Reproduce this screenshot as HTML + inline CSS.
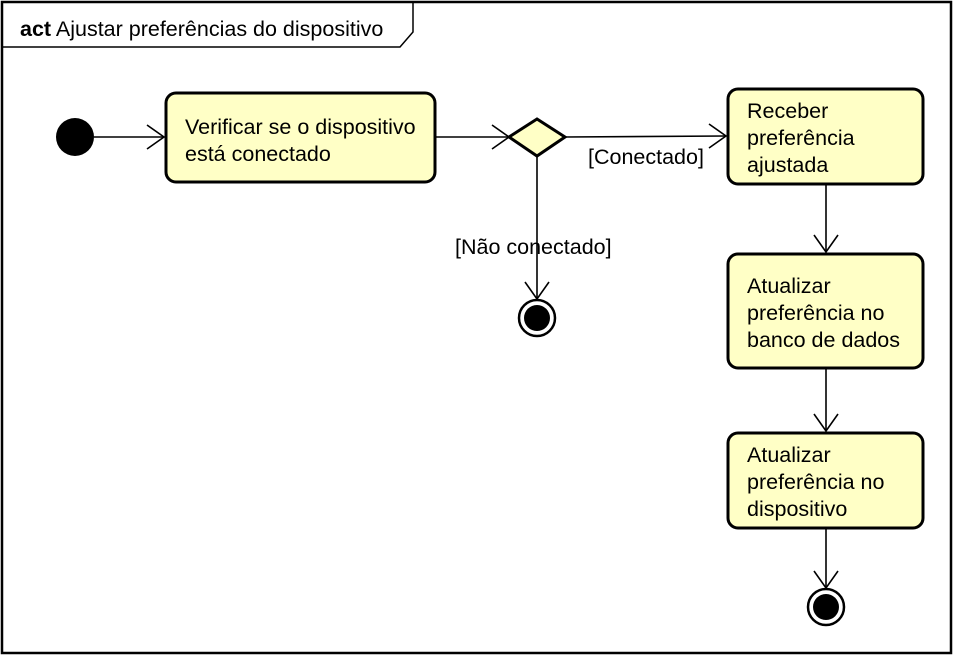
<!DOCTYPE html>
<html><head><meta charset="utf-8"><style>
html,body{margin:0;padding:0;background:#fff}
svg{display:block}
text{font-family:"Liberation Sans",Arial,sans-serif;font-size:21.5px;fill:#000}
</style></head><body>
<svg width="954" height="657" viewBox="0 0 954 657">
<rect x="2" y="2" width="949" height="651" fill="#fff" stroke="#000" stroke-width="2.5"/>
<polyline points="2,47 400,47 413,32 413,2" fill="none" stroke="#000" stroke-width="1.5"/>
<text x="20" y="36"><tspan font-weight="bold">act</tspan> Ajustar preferências do dispositivo</text>

<circle cx="75" cy="137" r="19" fill="#000"/>
<line x1="94" y1="137" x2="164" y2="137" stroke="#000" stroke-width="1.6"/>
<polyline points="147,125 164,137 147,149" fill="none" stroke="#000" stroke-width="1.6"/>

<rect x="166" y="93" width="269" height="89" rx="10" fill="#ffffc6" stroke="#000" stroke-width="3"/>
<text x="185" y="134">Verificar se o dispositivo</text>
<text x="185" y="161">está conectado</text>

<line x1="436" y1="137" x2="509" y2="137" stroke="#000" stroke-width="1.6"/>
<polyline points="492,125 509,137 492,149" fill="none" stroke="#000" stroke-width="1.6"/>
<polygon points="537,119 565,137 537,156 509,137" fill="#ffffc6" stroke="#000" stroke-width="3"/>

<line x1="565" y1="137" x2="726" y2="136" stroke="#000" stroke-width="1.6"/>
<polyline points="709,124 726,136 709,148" fill="none" stroke="#000" stroke-width="1.6"/>
<text x="588" y="164">[Conectado]</text>

<line x1="537" y1="156" x2="537" y2="299" stroke="#000" stroke-width="1.6"/>
<polyline points="525,282 537,299 549,282" fill="none" stroke="#000" stroke-width="1.6"/>
<text x="455" y="254">[Não conectado]</text>
<circle cx="537" cy="318" r="18" fill="#fff" stroke="#000" stroke-width="2.5"/>
<circle cx="537" cy="318" r="13" fill="#000"/>

<rect x="728" y="89" width="195" height="95" rx="10" fill="#ffffc6" stroke="#000" stroke-width="3"/>
<text x="747" y="118">Receber</text>
<text x="747" y="145">preferência</text>
<text x="747" y="172">ajustada</text>

<line x1="826" y1="185" x2="826" y2="252" stroke="#000" stroke-width="1.6"/>
<polyline points="814,235 826,252 838,235" fill="none" stroke="#000" stroke-width="1.6"/>

<rect x="728" y="254" width="195" height="114" rx="10" fill="#ffffc6" stroke="#000" stroke-width="3"/>
<text x="747" y="293">Atualizar</text>
<text x="747" y="320">preferência no</text>
<text x="747" y="347">banco de dados</text>

<line x1="826" y1="369" x2="826" y2="431" stroke="#000" stroke-width="1.6"/>
<polyline points="814,414 826,431 838,414" fill="none" stroke="#000" stroke-width="1.6"/>

<rect x="728" y="433" width="195" height="95" rx="10" fill="#ffffc6" stroke="#000" stroke-width="3"/>
<text x="747" y="462">Atualizar</text>
<text x="747" y="489">preferência no</text>
<text x="747" y="516">dispositivo</text>

<line x1="826" y1="529" x2="826" y2="588" stroke="#000" stroke-width="1.6"/>
<polyline points="814,571 826,588 838,571" fill="none" stroke="#000" stroke-width="1.6"/>
<circle cx="826" cy="607" r="18" fill="#fff" stroke="#000" stroke-width="2.5"/>
<circle cx="826" cy="607" r="13" fill="#000"/>
</svg>
</body></html>
